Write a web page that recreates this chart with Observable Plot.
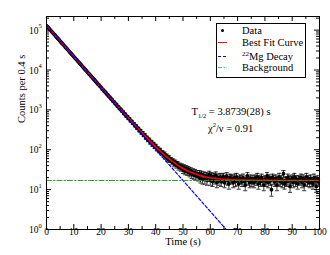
<!DOCTYPE html>
<html><head><meta charset="utf-8">
<script src="https://cdn.jsdelivr.net/npm/d3@7"></script>
<script src="https://cdn.jsdelivr.net/npm/@observablehq/plot@0.6"></script>
<style>
body{margin:0;background:#fff;}
#chart{width:330px;height:255px;}
svg{font-family:"Liberation Serif","Times New Roman",serif;}
</style></head><body><div id="chart"></div>
<script>
// ---- data ----
const binWidth = 0.4; // seconds per bin
const counts = [
130210,120890,112750,104700,97820,90780,84690,78650,73420,68190,
63410,59290,55020,51390,47680,44520,41290,38610,35790,33450,
31120,28870,26960,25010,23380,21690,20260,18790,17560,16280,
15230,14110,13200,12230,11450,10590,9930,9180,8610,7960,
7490,6890,6470,5970,5630,5180,4870,4490,4230,3890,
3690,3360,3190,2910,2770,2530,2410,2190,2090,1900,
1820,1640,1580,1420,1375,1232,1190,1070,1040,930,
910,800,790,695,690,605,600,525,520,458,
455,398,400,345,348,300,305,262,268,229,
236,198,205,172,182,151,160,133,142,118,
126,104,108,94,99,84,86,75,79,66,
70,58,64,55,56,49,52,44,48,41,
44,37,40,35,38,31,36,29,34,28,
32,26,30,24,28,23,27,22,25,21,
25,19,24,18,23,18,22,17,21,24,
17,22,16,21,18,23,15,20,17,21,
16,19,21,15,18,22,17,14,20,19,
18,15,20,16,21,17,14,19,18,16,
20,16,13,18,22,17,15,19,16,18,
15,19,17,21,14,18,16,20,17,13,
18,16,22,15,19,17,10,20,18,16,
19,13,17,21,16,18,15,25,14,17,
16,20,18,12,17,19,15,21,16,18,
14,18,17,20,15,19,13,17,21,16,
18,15,19,16,14,20,17,12,18,16
];
const fitT = [0,2,4,6,8,10,12,14,16,18,20,22,24,26,28,30,32,34,36,38,40,42,44,46,48,50,52,54,56,58,60,62,64,66,68,70,72,76,80,90,100];
const fitY = [130017,90909,63566,44448,31082,21737,15203,10635,7440,5207,3646,2554,1791,1257,884,623,441,313,224,162,118,88,66.5,51.6,41.2,33.9,28.8,25.3,22.8,21.0,19.8,19.0,18.4,18.0,17.7,17.47,17.33,17.16,17.08,17.01,17.0];
const decayT = [0, 65.8];
const decayY = [130000, 1];
const bgT = [0, 100];
const bgY = [17, 17];
const xMajor = [0,10,20,30,40,50,60,70,80,90,100];
const xMinor = [5,15,25,35,45,55,65,75,85,95];
const yMajor = [1,10,100,1000,10000,100000];
const yExp = ["0","1","2","3","4","5"];
const yMinor = [1,10,100,1000,10000,100000].flatMap(d => [2,3,4,5,6,7,8,9].map(m => m*d)).filter(v => v < 2.2e5);

const points = counts.map((c,i) => ({t: i*binWidth, c, lo: c - Math.sqrt(c), hi: c + Math.sqrt(c)}));
const fit = fitT.map((t,i) => ({t, y: fitY[i]}));
const decay = decayT.map((t,i) => ({t, y: decayY[i]}));
const bg = bgT.map((t,i) => ({t, y: bgY[i]}));

const W = 330, H = 255, mL = 46, mR = 11, mT = 16, mB = 26;
const pw = W - mL - mR, ph = H - mT - mB;
const cap = 0.75;
const green = "#2a962a";

const plot = Plot.plot({
  width: W, height: H,
  marginLeft: mL, marginRight: mR, marginTop: mT, marginBottom: mB,
  x: {domain: [0, 100], axis: null},
  y: {type: "log", domain: [1, 2.2e5], axis: null},
  style: {fontFamily: '"Liberation Serif","Times New Roman",serif', background: "#fff"},
  marks: [
    Plot.ruleX(points, {x: "t", y1: "lo", y2: "hi", stroke: "#000", strokeWidth: 0.8, clip: true}),
    Plot.link(points, {x1: d => d.t - cap, x2: d => d.t + cap, y1: "hi", y2: "hi", stroke: "#000", strokeWidth: 0.8, clip: true}),
    Plot.link(points, {x1: d => d.t - cap, x2: d => d.t + cap, y1: "lo", y2: "lo", stroke: "#000", strokeWidth: 0.8, clip: true}),
    Plot.dot(points, {x: "t", y: "c", r: 1.9, fill: "#000", stroke: null, clip: true}),
    Plot.line(fit, {x: "t", y: "y", stroke: "#ff0000", strokeWidth: 1.6, clip: true}),
    Plot.line(decay, {x: "t", y: "y", stroke: "#0000ff", strokeWidth: 1.2, strokeDasharray: "3,2", clip: true}),
    Plot.line(bg, {x: "t", y: "y", stroke: green, strokeWidth: 1, strokeDasharray: "5,2,1.5,2", clip: true}),
    Plot.frame({stroke: "#000", strokeWidth: 1}),
    Plot.tickX(xMajor, {x: d => d, insetTop: ph - 5, stroke: "#000"}),
    Plot.tickX(xMajor, {x: d => d, insetBottom: ph - 5, stroke: "#000"}),
    Plot.tickX(xMinor, {x: d => d, insetTop: ph - 3, stroke: "#000"}),
    Plot.tickX(xMinor, {x: d => d, insetBottom: ph - 3, stroke: "#000"}),
    Plot.tickY(yMajor, {y: d => d, insetRight: pw - 5, stroke: "#000"}),
    Plot.tickY(yMajor, {y: d => d, insetLeft: pw - 5, stroke: "#000"}),
    Plot.tickY(yMinor, {y: d => d, insetRight: pw - 3, stroke: "#000"}),
    Plot.tickY(yMinor, {y: d => d, insetLeft: pw - 3, stroke: "#000"}),
    Plot.text(xMajor, {x: d => d, frameAnchor: "bottom", dy: 5, text: d => String(d), fontSize: 9.5, fill: "#000"}),
    Plot.text(yMajor, {y: d => d, frameAnchor: "left", dx: -8, dy: 0.5, text: () => "10", textAnchor: "end", fontSize: 9.5, fill: "#000"}),
    Plot.text(yMajor, {y: d => d, frameAnchor: "left", dx: -8, dy: -4, text: (d,i) => yExp[i], textAnchor: "start", fontSize: 6.5, fill: "#000"}),
    Plot.text(["Time (s)"], {frameAnchor: "bottom", dy: 15, text: d => d, fontSize: 10.5, fill: "#000"}),
    Plot.text(["Counts per 0.4 s"], {frameAnchor: "left", dx: -24.5, rotate: -90, text: d => d, fontSize: 10.5, fill: "#000"})
  ]
});
document.getElementById("chart").appendChild(plot);

// ---- legend and annotation ----
const svg = d3.select(plot);
const g = svg.append("g")
  .attr("font-family", '"Liberation Serif","Times New Roman",serif')
  .attr("font-size", 10.5).attr("fill", "#000").attr("text-anchor", "start");
g.append("rect").attr("x", 216.5).attr("y", 23.5).attr("width", 89).attr("height", 54).attr("fill", "#fff").attr("stroke", "#000").attr("stroke-width", 1);
const lx0 = 218, lx1 = 227, tx = 242;
const rows = [30.5, 42.5, 56.5, 67.5];
g.append("circle").attr("cx", 222.5).attr("cy", rows[0]).attr("r", 1.5).attr("fill", "#000");
g.append("line").attr("x1", lx0).attr("x2", lx1).attr("y1", rows[1]).attr("y2", rows[1]).attr("stroke", "#ff0000").attr("stroke-width", 1);
g.append("line").attr("x1", lx0).attr("x2", lx1).attr("y1", rows[2]).attr("y2", rows[2]).attr("stroke", "#0000ff").attr("stroke-width", 1).attr("stroke-dasharray", "3,2");
g.append("line").attr("x1", lx0).attr("x2", lx1).attr("y1", rows[3]).attr("y2", rows[3]).attr("stroke", "#5cc05c").attr("stroke-width", 1).attr("stroke-dasharray", "4,1.5,1.5,1.5");
g.append("text").attr("x", tx).attr("y", rows[0] + 3.5).text("Data");
g.append("text").attr("x", tx).attr("y", rows[1] + 3.5).text("Best Fit Curve");
const t3 = g.append("text").attr("x", tx).attr("y", rows[2] + 3.5);
t3.append("tspan").attr("font-size", 7).attr("dy", -4).text("22");
t3.append("tspan").attr("dy", 4).text("Mg Decay");
g.append("text").attr("x", tx).attr("y", rows[3] + 3.5).text("Background");

const a1 = g.append("text").attr("x", 191.5).attr("y", 115);
a1.append("tspan").text("T");
a1.append("tspan").attr("font-size", 6.5).attr("dy", 2.5).text("1/2");
a1.append("tspan").attr("dy", -2.5).text(" = 3.8739(28) s");
const a2 = g.append("text").attr("x", 208).attr("y", 131.5);
a2.append("tspan").text("χ");
a2.append("tspan").attr("font-size", 6.5).attr("dy", -5).text("2");
a2.append("tspan").attr("dy", 5).text("/ν = 0.91");
</script></body></html>
